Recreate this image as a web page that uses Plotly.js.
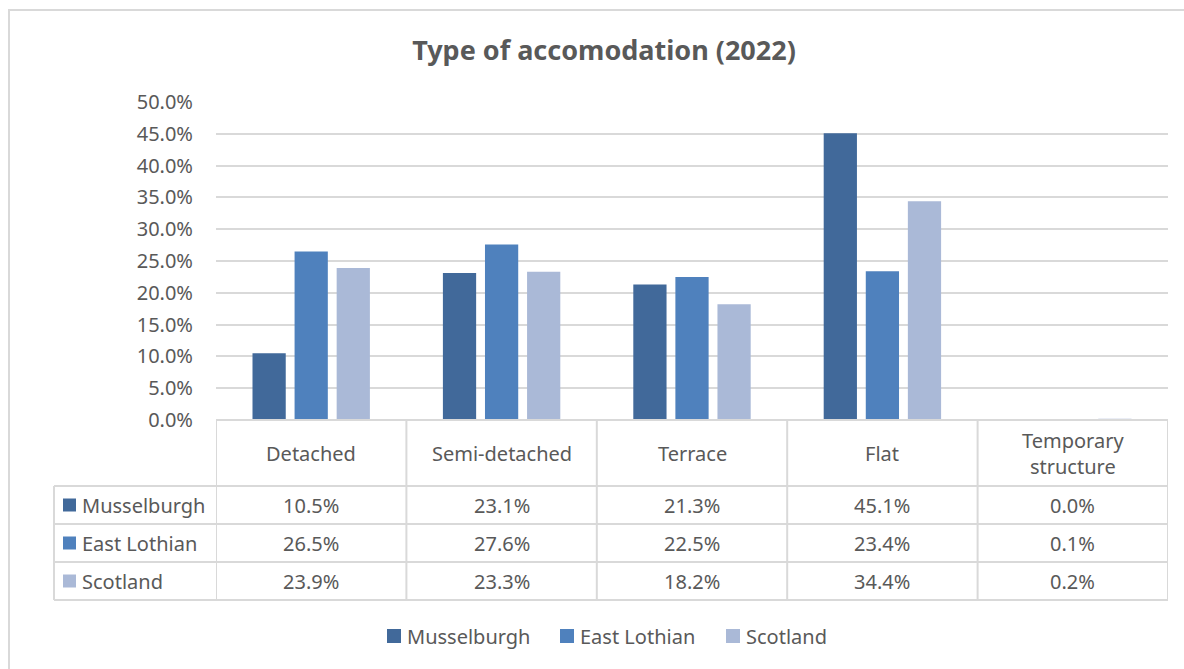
<!DOCTYPE html>
<html>
<head>
<meta charset="utf-8">
<script src="https://cdn.plot.ly/plotly-3.0.1.min.js"></script>
<style>html,body{margin:0;padding:0;background:#fff;}#chart{width:1184px;height:669px;}</style>
</head>
<body>
<div id="chart"></div>
<script>
const categories = ["Detached", "Semi-detached", "Terrace", "Flat", "Temporary structure"];
const headerLabels = ["Detached", "Semi-detached", "Terrace", "Flat", "Temporary<br>structure"];
const seriesNames = ["Musselburgh", "East Lothian", "Scotland"];
const musselburgh = [10.5, 23.1, 21.3, 45.1, 0.0];
const eastLothian = [26.5, 27.6, 22.5, 23.4, 0.1];
const scotland = [23.9, 23.3, 18.2, 34.4, 0.2];
const colors = ["#41699A", "#4F81BD", "#AAB9D7"];
const yTicks = [0, 5, 10, 15, 20, 25, 30, 35, 40, 45, 50];

const seriesValues = [musselburgh, eastLothian, scotland];
const FONT = "Noto Sans, Open Sans, sans-serif";
const TXT = "#595959";
const GRID = "#D9D9D9";
const FS = 20;

const traces = seriesValues.map((vals, i) => ({
  type: "bar",
  name: seriesNames[i],
  x: categories,
  y: vals,
  marker: {color: colors[i]},
  hoverinfo: "skip",
  showlegend: false
}));

// geometry in pixels -> paper
const L = 216, R = 16, T = 102, B = 249, W = 1184, H = 669;
const pw = W - L - R, ph = H - T - B;
const py = (pix) => (H - B - pix) / ph;
const px = (pix) => (pix - L) / pw;

const rowY = [486, 524, 562, 600];
const shapes = [];
const annotations = [];

// horizontal table lines
shapes.push({type: "line", xref: "paper", yref: "paper", x0: 0, x1: 1, y0: 0, y1: 0, line: {color: GRID, width: 2}});
rowY.forEach(y => {
  shapes.push({type: "line", xref: "paper", yref: "paper", x0: px(54), x1: 1, y0: py(y), y1: py(y), line: {color: GRID, width: 2}});
});
// vertical lines at category boundaries
for (let k = 0; k <= categories.length; k++) {
  shapes.push({type: "line", xref: "x", yref: "paper", x0: k - 0.5, x1: k - 0.5, y0: 0, y1: py(600), line: {color: GRID, width: 2}});
}
// left edge of row-label column
shapes.push({type: "line", xref: "paper", yref: "paper", x0: px(54), x1: px(54), y0: py(486), y1: py(600), line: {color: GRID, width: 2}});

// header labels
categories.forEach((c, j) => {
  annotations.push({xref: "x", yref: "paper", x: c, y: py(453), text: headerLabels[j], showarrow: false,
    font: {family: FONT, size: FS, color: TXT}, xanchor: "center", yanchor: "middle"});
});
// row labels and values
seriesValues.forEach((vals, i) => {
  const cy = (rowY[i] + rowY[i + 1]) / 2;
  shapes.push({type: "rect", xref: "paper", yref: "paper", x0: px(63), x1: px(76), y0: py(cy - 6.5), y1: py(cy + 6.5),
    fillcolor: colors[i], line: {width: 0}});
  annotations.push({xref: "paper", yref: "paper", x: px(80), y: py(cy), text: seriesNames[i], showarrow: false,
    font: {family: FONT, size: FS, color: TXT}, xanchor: "left", yanchor: "middle"});
  vals.forEach((v, j) => {
    annotations.push({xref: "x", yref: "paper", x: categories[j], y: py(cy), text: v.toFixed(1) + "%", showarrow: false,
      font: {family: FONT, size: FS, color: TXT}, xanchor: "center", yanchor: "middle"});
  });
});

// bottom legend
const legendStarts = [387, 560, 726];
const legY = 636;
seriesNames.forEach((n, i) => {
  shapes.push({type: "rect", xref: "paper", yref: "paper", x0: px(legendStarts[i]), x1: px(legendStarts[i] + 14),
    y0: py(legY - 7), y1: py(legY + 7), fillcolor: colors[i], line: {width: 0}});
  annotations.push({xref: "paper", yref: "paper", x: px(legendStarts[i] + 18), y: py(legY), text: n, showarrow: false,
    font: {family: FONT, size: FS, color: TXT}, xanchor: "left", yanchor: "middle"});
});

// outer chart border (left/top visible)
shapes.push({type: "rect", xref: "paper", yref: "paper", x0: px(9), x1: px(1200), y0: py(10), y1: py(700),
  line: {color: "#D9D9D9", width: 2}, fillcolor: "rgba(0,0,0,0)", layer: "below"});

const layout = {
  width: W, height: H,
  margin: {l: L, r: R, t: T, b: B},
  paper_bgcolor: "#fff", plot_bgcolor: "#fff",
  title: {text: "<b>Type of accomodation (2022)</b>", x: 604 / W, xref: "container", xanchor: "center",
    y: 1 - 51 / H, yanchor: "middle",
    font: {family: FONT, size: 27, color: TXT}},
  barmode: "group",
  bargap: 0.337,
  bargroupgap: 0.21,
  xaxis: {type: "category", range: [-0.5, 4.5], showticklabels: false, showgrid: false, zeroline: false,
    showline: false, ticks: ""},
  yaxis: {range: [0, 50], tickvals: yTicks, ticktext: yTicks.map(v => v.toFixed(1) + "%"),
    showgrid: true, gridcolor: GRID, gridwidth: 2, zeroline: false, showline: false, ticks: "",
    ticklabelstandoff: 22,
    tickfont: {family: FONT, size: FS, color: TXT}},
  showlegend: false,
  shapes: shapes,
  annotations: annotations,
  font: {family: FONT, color: TXT}
};

Plotly.newPlot("chart", traces, layout, {displayModeBar: false, staticPlot: true});
</script>
</body>
</html>
